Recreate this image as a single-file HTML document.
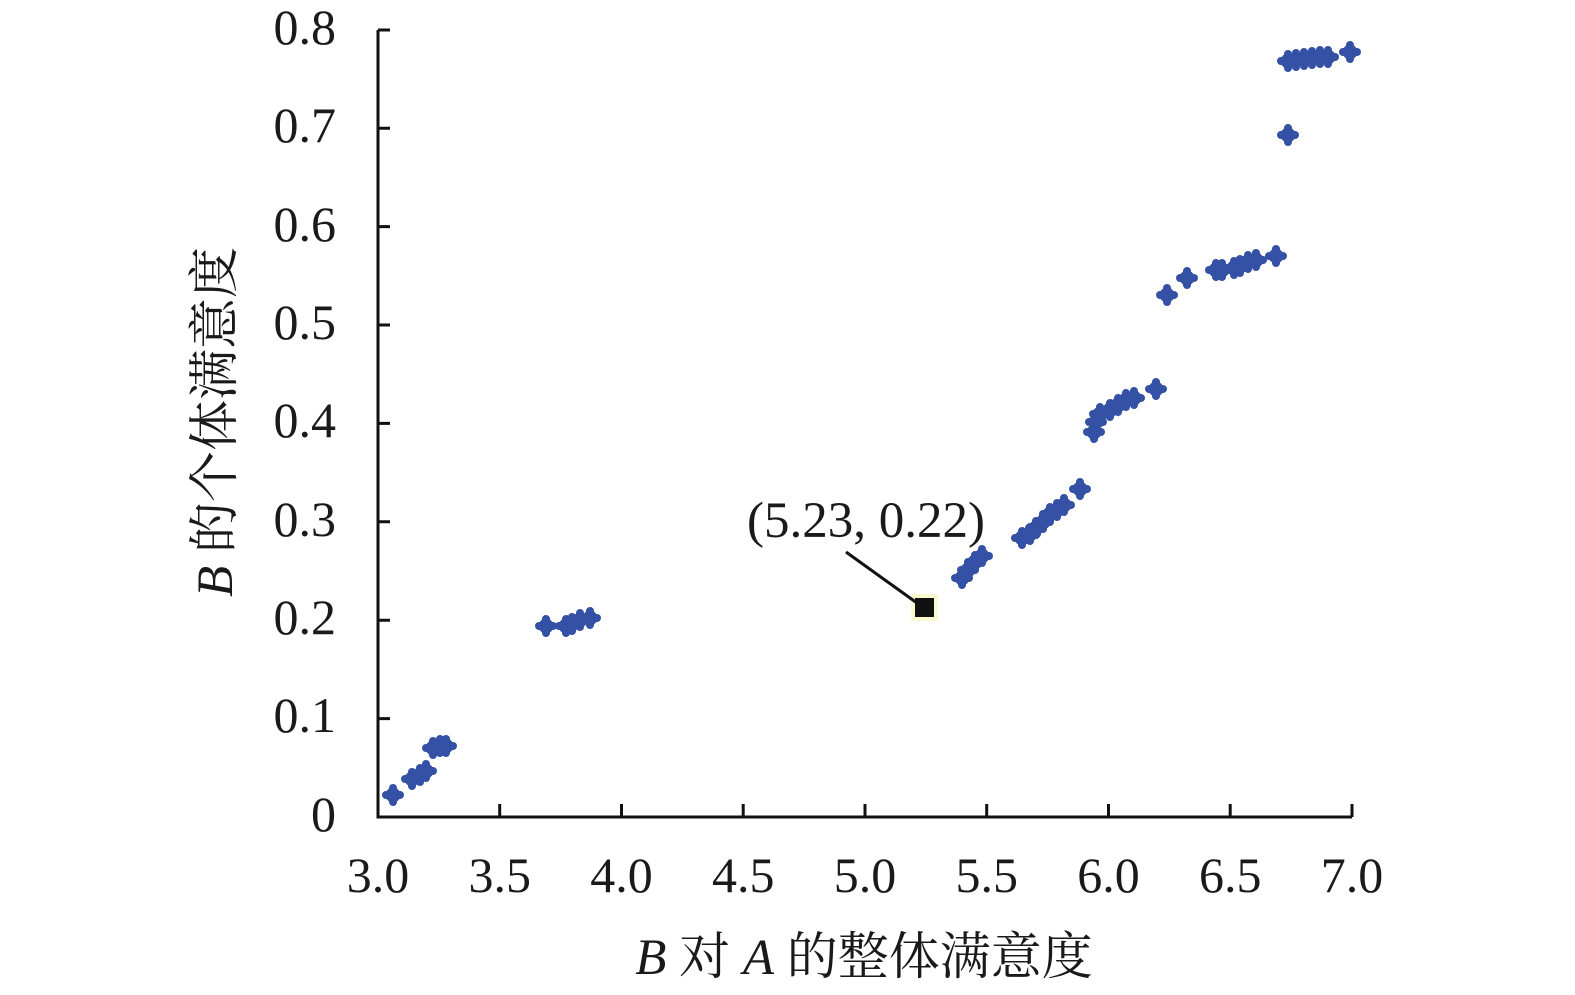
<!DOCTYPE html>
<html><head><meta charset="utf-8"><style>
body{margin:0;background:#fff}
svg{display:block}
text{font-family:"Liberation Serif","Noto Serif CJK SC",serif;fill:#1a1a1a}
</style></head><body>
<svg width="1575" height="995" viewBox="0 0 1575 995" xmlns="http://www.w3.org/2000/svg">
<defs>
<g id="m" fill="#3451a5">
<rect x="-11" y="-4" width="22" height="8" rx="4"/>
<rect x="-4" y="-11" width="8" height="22" rx="4"/>
<circle r="7.5"/>
</g>
</defs>
<g stroke="#111" stroke-width="3" fill="none">
<path d="M378 30 V817 H1352"/>
<path d="M378 718.6h12M378 620.2h12M378 521.8h12M378 423.4h12M378 325h12M378 226.6h12M378 128.2h12M378 30h12"/>
<path d="M499.7 817v-13M621.5 817v-13M743.2 817v-13M865 817v-13M986.7 817v-13M1108.5 817v-13M1230.2 817v-13M1352 817v-13"/>
</g>
<g font-size="50" text-anchor="end">
<text x="336" y="831">0</text>
<text x="336" y="732">0.1</text>
<text x="336" y="634">0.2</text>
<text x="336" y="536">0.3</text>
<text x="336" y="437">0.4</text>
<text x="336" y="339">0.5</text>
<text x="336" y="241">0.6</text>
<text x="336" y="142">0.7</text>
<text x="336" y="44">0.8</text>
</g>
<g font-size="50" text-anchor="middle">
<text x="378" y="892">3.0</text>
<text x="499.7" y="892">3.5</text>
<text x="621.5" y="892">4.0</text>
<text x="743.2" y="892">4.5</text>
<text x="865" y="892">5.0</text>
<text x="986.7" y="892">5.5</text>
<text x="1108.5" y="892">6.0</text>
<text x="1230.2" y="892">6.5</text>
<text x="1352" y="892">7.0</text>
</g>
<text x="864" y="974" font-size="51" text-anchor="middle"><tspan font-style="italic">B</tspan> 对 <tspan font-style="italic">A</tspan> 的整体满意度</text>
<text transform="translate(232,422) rotate(-90)" font-size="51" text-anchor="middle"><tspan font-style="italic">B</tspan> 的个体满意度</text>
<g>
<use href="#m" x="393" y="795"/><use href="#m" x="412" y="779"/><use href="#m" x="420" y="775"/><use href="#m" x="426" y="771"/>
<use href="#m" x="433" y="748"/><use href="#m" x="440" y="746"/><use href="#m" x="446" y="746"/>
<use href="#m" x="546" y="626"/><use href="#m" x="566" y="626"/><use href="#m" x="572" y="624"/><use href="#m" x="580" y="620"/><use href="#m" x="590" y="618"/>
<use href="#m" x="962" y="578"/><use href="#m" x="968" y="570"/><use href="#m" x="975" y="562"/><use href="#m" x="982" y="556"/>
<use href="#m" x="1022" y="538"/><use href="#m" x="1030" y="534"/><use href="#m" x="1036" y="528"/><use href="#m" x="1043" y="522"/><use href="#m" x="1050" y="514"/><use href="#m" x="1057" y="510"/><use href="#m" x="1064" y="505"/><use href="#m" x="1080" y="489"/>
<use href="#m" x="1094" y="432"/><use href="#m" x="1096" y="422"/><use href="#m" x="1100" y="414"/><use href="#m" x="1110" y="410"/><use href="#m" x="1118" y="405"/><use href="#m" x="1126" y="400"/><use href="#m" x="1134" y="398"/><use href="#m" x="1156" y="389"/>
<use href="#m" x="1167" y="295"/><use href="#m" x="1187" y="278"/>
<use href="#m" x="1216" y="270"/><use href="#m" x="1222" y="270"/><use href="#m" x="1234" y="268"/><use href="#m" x="1240" y="266"/><use href="#m" x="1248" y="262"/><use href="#m" x="1256" y="260"/><use href="#m" x="1276" y="256"/>
<use href="#m" x="1288" y="135"/>
<use href="#m" x="1288" y="61"/><use href="#m" x="1296" y="60"/><use href="#m" x="1304" y="59"/><use href="#m" x="1312" y="58"/><use href="#m" x="1320" y="57"/><use href="#m" x="1328" y="57"/><use href="#m" x="1350" y="52"/>
</g>
<rect x="911" y="594" width="27" height="27" fill="#fafad0"/>
<rect x="915" y="598" width="19" height="19" fill="#111"/>
<line x1="846" y1="552" x2="917" y2="603" stroke="#111" stroke-width="3"/>
<text x="866" y="537" font-size="51" text-anchor="middle">(5.23, 0.22)</text>
</svg>
</body></html>
